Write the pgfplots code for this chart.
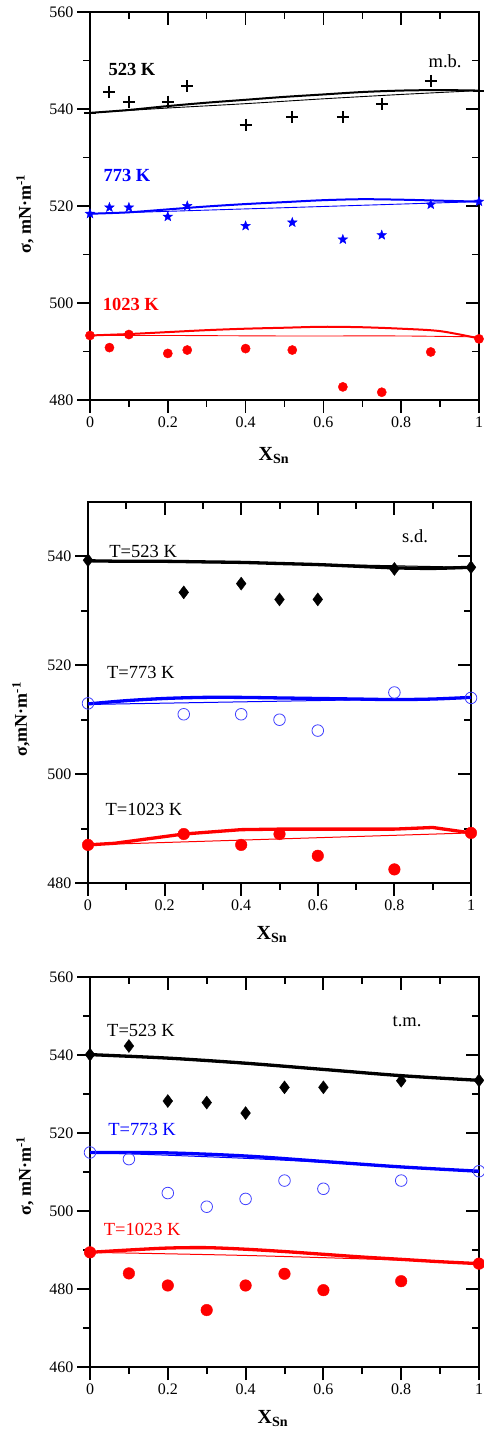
\documentclass[border=0pt]{standalone}
\usepackage{fontspec}
\setmainfont{Liberation Serif}
\usepackage{pgfplots}
\pgfplotsset{compat=1.18}

\pgfdeclareplotmark{fstar}{%
  \pgfpathmoveto{\pgfpointpolar{90}{\pgfplotmarksize}}%
  \pgfpathlineto{\pgfpointpolar{126}{0.42\pgfplotmarksize}}%
  \pgfpathlineto{\pgfpointpolar{162}{\pgfplotmarksize}}%
  \pgfpathlineto{\pgfpointpolar{198}{0.42\pgfplotmarksize}}%
  \pgfpathlineto{\pgfpointpolar{234}{\pgfplotmarksize}}%
  \pgfpathlineto{\pgfpointpolar{270}{0.42\pgfplotmarksize}}%
  \pgfpathlineto{\pgfpointpolar{306}{\pgfplotmarksize}}%
  \pgfpathlineto{\pgfpointpolar{342}{0.42\pgfplotmarksize}}%
  \pgfpathlineto{\pgfpointpolar{18}{\pgfplotmarksize}}%
  \pgfpathlineto{\pgfpointpolar{54}{0.42\pgfplotmarksize}}%
  \pgfpathclose
  \pgfusepathqfillstroke}

\pgfplotsset{
  common/.style={scale only axis, xmin=0, xmax=1,
    xtick={0,0.2,0.4,0.6,0.8,1}, minor x tick num=1, minor y tick num=1,
    major tick length=13pt, minor tick length=7pt,
    tick style={black, line width=1.5pt},
    axis line style={line width=1.6pt},
    clip=false},
  base/.style={common, tick align=outside, xtick pos=left, ytick pos=left,
    ticklabel style={font=\fontsize{16}{18}\selectfont},
    /pgf/number format/assume math mode=true,
    xlabel={\textbf{X\textsubscript{Sn}}},
    xlabel style={font=\fontsize{20}{22}\selectfont},
    ylabel style={font=\fontsize{18}{20}\selectfont, anchor=center, rotate=0},
  },
  over/.style={common, tick align=inside, xtick pos=right, ytick pos=right,
    xticklabels={}, yticklabels={}},
}

\begin{document}
\begin{tikzpicture}[x=1pt,y=1pt]
\useasboundingbox (0,0) rectangle (484,1436);

% ================= Panel 1 (m.b.) =================
\begin{axis}[over, at={(90pt,1036pt)}, anchor=south west, width=389pt, height=388pt,
  ymin=480, ymax=560, ytick={480,500,520,540,560}]
\end{axis}
\begin{axis}[base, at={(90pt,1036pt)}, anchor=south west, width=389pt, height=388pt,
  ymin=480, ymax=560, ytick={480,500,520,540,560},
  ylabel={\textbf{σ, mN·m\textsuperscript{-1}}},
  ylabel style={at={(axis description cs:-0.167,0.479)}},
  xlabel style={at={(axis description cs:0.473,-0.142)}, anchor=center}]
% black
\addplot[black, line width=0.9pt, smooth] coordinates {(0,539.2)(0.2,540.2)(0.4,541.1)(0.6,542.1)(0.8,543.0)(1,543.8)};
\addplot[black, line width=2pt, smooth] coordinates {(0,539.2)(0.1,539.8)(0.2,540.6)(0.3,541.3)(0.4,541.9)(0.5,542.5)(0.6,543.0)(0.7,543.5)(0.8,543.8)(0.9,543.9)(1,543.8)};
\addplot[only marks, mark=+, mark size=6pt, black, mark options={line width=2pt}] coordinates {
(0,539.2)(0.05,543.6)(0.1,541.5)(0.2,541.5)(0.25,544.7)(0.4,536.8)(0.52,538.4)(0.65,538.3)(0.75,541.0)(0.876,545.8)(1,543.8)};
% blue
\addplot[blue, line width=0.9pt, smooth] coordinates {(0,518.4)(0.2,518.9)(0.4,519.4)(0.6,519.9)(0.8,520.4)(1,520.9)};
\addplot[blue, line width=2pt, smooth] coordinates {(0,518.4)(0.1,518.7)(0.2,519.3)(0.3,519.9)(0.4,520.4)(0.5,520.8)(0.6,521.2)(0.7,521.4)(0.8,521.3)(0.9,521.1)(1,520.9)};
\addplot[only marks, mark=fstar, mark size=5pt, blue, mark options={fill=blue, line width=0.4pt}] coordinates {
(0,518.4)(0.05,519.7)(0.1,519.7)(0.2,517.8)(0.25,520.0)(0.4,515.9)(0.52,516.6)(0.65,513.1)(0.75,514.0)(0.876,520.3)(1,520.9)};
% red
\addplot[red, line width=0.9pt, smooth] coordinates {(0,493.3)(0.2,493.3)(0.5,493.2)(0.8,493.2)(1,493.0)};
\addplot[red, line width=2pt, smooth] coordinates {(0,493.3)(0.1,493.6)(0.2,494.0)(0.3,494.4)(0.4,494.7)(0.5,494.9)(0.6,495.1)(0.7,495.0)(0.8,494.7)(0.9,494.2)(1,492.7)};
\addplot[only marks, mark=*, mark size=4.6pt, red] coordinates {
(0,493.3)(0.05,490.8)(0.1,493.5)(0.2,489.6)(0.25,490.3)(0.4,490.6)(0.52,490.3)(0.65,482.7)(0.75,481.6)(0.876,489.9)(1,492.6)};
\node[font=\fontsize{18.5}{20}\selectfont\bfseries, black] at (axis cs:0.108,548.2) {523 K};
\node[font=\fontsize{18.5}{20}\selectfont\bfseries, blue] at (axis cs:0.095,526.2) {773 K};
\node[font=\fontsize{18.5}{20}\selectfont\bfseries, red] at (axis cs:0.105,499.6) {1023 K};
\node[font=\fontsize{18.5}{20}\selectfont] at (axis cs:0.913,549.8) {m.b.};
\end{axis}

% ================= Panel 2 (s.d.) =================
\begin{axis}[over, at={(88pt,553pt)}, anchor=south west, width=383pt, height=381pt,
  ymin=480, ymax=550, ytick={480,500,520,540},
  axis line style={line width=2.2pt}, tick style={line width=2pt}]
\end{axis}
\begin{axis}[base, at={(88pt,553pt)}, anchor=south west, width=383pt, height=381pt,
  ymin=480, ymax=550, ytick={480,500,520,540},
  axis line style={line width=2.2pt}, tick style={line width=2pt},
  ylabel={\textbf{σ,mN·m\textsuperscript{-1}}},
  ylabel style={at={(axis description cs:-0.175,0.43)}},
  xlabel style={at={(axis description cs:0.48,-0.136)}, anchor=center}]
% black
\addplot[black, line width=1pt] coordinates {(0,539.2)(0.5,538.7)(1,538.0)};
\addplot[black, line width=3.3pt, smooth] coordinates {(0,539.2)(0.1,539.1)(0.2,539.1)(0.3,539.0)(0.4,538.9)(0.5,538.7)(0.6,538.5)(0.7,538.2)(0.8,537.9)(0.9,537.8)(1,538.0)};
\addplot[only marks, mark=diamond*, mark size=6.5pt, black] coordinates {
(0,539.3)(0.25,533.4)(0.4,535.0)(0.5,532.1)(0.6,532.1)(0.8,537.7)(1,538.0)};
% blue
\addplot[blue, line width=1pt, smooth] coordinates {(0,512.8)(0.5,513.4)(1,514.0)};
\addplot[blue, line width=3.3pt, smooth] coordinates {(0,512.9)(0.1,513.5)(0.2,513.9)(0.3,514.1)(0.4,514.1)(0.5,514.0)(0.6,513.9)(0.7,513.8)(0.8,513.7)(0.9,513.8)(1,514.1)};
\addplot[only marks, mark=o, mark size=5.8pt, blue!75, mark options={line width=0.8pt}] coordinates {
(0,513.0)(0.25,511.0)(0.4,511.0)(0.5,510.0)(0.6,508.0)(0.8,515.0)(1,514.0)};
% red
\addplot[red, line width=1pt] coordinates {(0,487.0)(1,489.2)};
\addplot[red, line width=3.3pt] coordinates {(0,487.0)(0.07,487.3)(0.25,489.0)(0.4,489.8)(0.5,489.9)(0.8,489.9)(0.9,490.2)(1,489.2)};
\addplot[only marks, mark=*, mark size=5.8pt, red] coordinates {
(0,487.0)(0.25,489.0)(0.4,487.0)(0.5,489.0)(0.6,485.0)(0.8,482.5)(1,489.2)};
\node[font=\fontsize{18.5}{20}\selectfont] at (axis cs:0.144,541.0) {T=523 K};
\node[font=\fontsize{18.5}{20}\selectfont] at (axis cs:0.138,518.6) {T=773 K};
\node[font=\fontsize{18.5}{20}\selectfont] at (axis cs:0.146,493.5) {T=1023 K};
\node[font=\fontsize{18.5}{20}\selectfont] at (axis cs:0.854,543.7) {s.d.};
\end{axis}

% ================= Panel 3 (t.m.) =================
\begin{axis}[over, at={(90pt,69pt)}, anchor=south west, width=389pt, height=390pt,
  ymin=460, ymax=560, ytick={460,480,500,520,540,560},
  axis line style={line width=2.2pt}, tick style={line width=2pt}]
\end{axis}
\begin{axis}[base, at={(90pt,69pt)}, anchor=south west, width=389pt, height=390pt,
  ymin=460, ymax=560, ytick={460,480,500,520,540,560},
  axis line style={line width=2.2pt}, tick style={line width=2pt},
  ylabel={\textbf{σ, mN·m\textsuperscript{-1}}},
  ylabel style={at={(axis description cs:-0.167,0.49)}},
  xlabel style={at={(axis description cs:0.47,-0.131)}, anchor=center}]
% black
\addplot[black, line width=1pt, smooth] coordinates {(0,540.1)(0.2,539.1)(0.4,537.7)(0.6,536.2)(0.8,534.7)(1,533.5)};
\addplot[black, line width=3.3pt, smooth] coordinates {(0,540.1)(0.2,539.2)(0.4,537.9)(0.6,536.3)(0.8,534.7)(1,533.5)};
\addplot[only marks, mark=diamond*, mark size=6.5pt, black] coordinates {
(0,540.1)(0.1,542.3)(0.2,528.2)(0.3,527.8)(0.4,525.1)(0.5,531.7)(0.6,531.7)(0.8,533.4)(1,533.5)};
% blue
\addplot[blue, line width=1pt, smooth] coordinates {(0,515.0)(0.2,514.3)(0.4,513.5)(0.6,512.5)(0.8,511.3)(1,510.2)};
\addplot[blue, line width=3.3pt, smooth] coordinates {(0,515.0)(0.2,514.9)(0.4,514.1)(0.6,512.7)(0.8,511.3)(1,510.2)};
\addplot[only marks, mark=o, mark size=5.8pt, blue!75, mark options={line width=0.8pt}] coordinates {
(0,515.0)(0.1,513.3)(0.2,504.6)(0.3,501.1)(0.4,503.1)(0.5,507.8)(0.6,505.7)(0.8,507.8)(1,510.2)};
% red
\addplot[red, line width=1pt, smooth] coordinates {(0,489.4)(0.4,488.6)(0.8,487.4)(1,486.5)};
\addplot[red, line width=3.3pt, smooth] coordinates {(0,489.4)(0.1,490.0)(0.2,490.5)(0.3,490.6)(0.4,490.2)(0.5,489.6)(0.6,488.9)(0.7,488.2)(0.8,487.6)(0.9,487.0)(1,486.5)};
\addplot[only marks, mark=*, mark size=5.8pt, red] coordinates {
(0,489.4)(0.1,484.0)(0.2,480.9)(0.3,474.6)(0.4,480.9)(0.5,483.9)(0.6,479.7)(0.8,482.0)(1,486.5)};
\node[font=\fontsize{18.5}{20}\selectfont, black] at (axis cs:0.131,546.2) {T=523 K};
\node[font=\fontsize{18.5}{20}\selectfont, blue] at (axis cs:0.134,521.0) {T=773 K};
\node[font=\fontsize{18.5}{20}\selectfont, red] at (axis cs:0.134,495.3) {T=1023 K};
\node[font=\fontsize{18.5}{20}\selectfont] at (axis cs:0.815,548.5) {t.m.};
\end{axis}
\end{tikzpicture}
\end{document}
